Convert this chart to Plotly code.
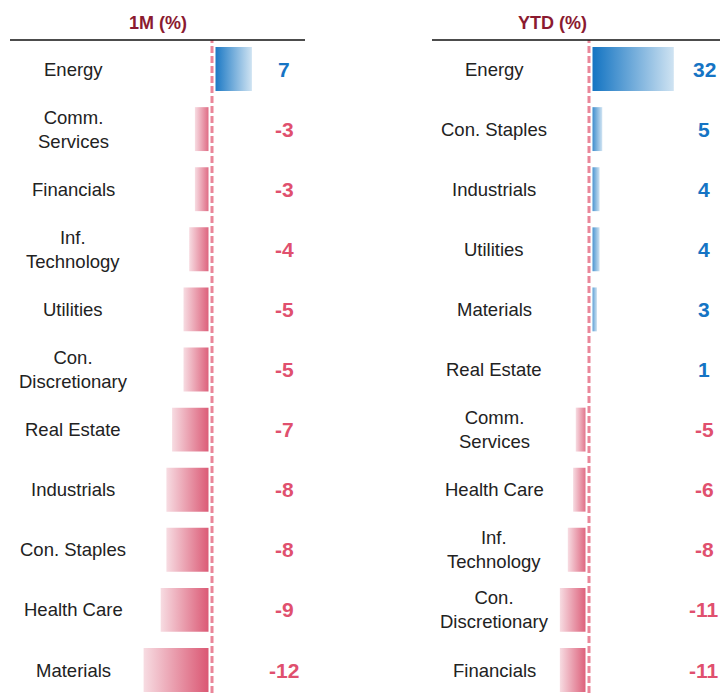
import plotly.graph_objects as go

# ---- data ----
m1_sectors = ["Energy", "Comm.<br>Services", "Financials", "Inf.<br>Technology", "Utilities",
              "Con.<br>Discretionary", "Real Estate", "Industrials", "Con. Staples",
              "Health Care", "Materials"]
m1_values = [7, -3, -3, -4, -5, -5, -7, -8, -8, -9, -12]

ytd_sectors = ["Energy", "Con. Staples", "Industrials", "Utilities", "Materials", "Real Estate",
               "Comm.<br>Services", "Health Care", "Inf.<br>Technology",
               "Con.<br>Discretionary", "Financials"]
ytd_values = [32, 5, 4, 4, 3, 1, -5, -6, -8, -11, -11]

headers = ["1M (%)", "YTD (%)"]

# ---- style ----
W, H = 723, 693
FONT = "Liberation Sans, Arial, sans-serif"
BLUE_DARK, BLUE_LIGHT = "#0B6FC0", "#CFE3F2"
RED_DARK, RED_LIGHT = "#D9506D", "#F7DCE2"
BLUE_TXT, RED_TXT = "#1574C4", "#E0506E"
HEAD_TXT = "#8B1A30"
ZERO_COL = "#EA8699"
BAR_H = 0.73

row0, row_step = 69, 60.1
y_range = [(H - row0) / row_step, -row0 / row_step]

panels = [
    dict(sectors=m1_sectors, values=m1_values, xa="x", dom=(130, 275), zero=212, ppu=5.7,
         label_x=73, value_x=284, head_x=158, line=(10, 305)),
    dict(sectors=ytd_sectors, values=ytd_values, xa="x2", dom=(550, 690), zero=589, ppu=2.65,
         label_x=494, value_x=704, head_x=552, line=(432, 720)),
]

fig = go.Figure()
annotations = []
shapes = []

for p in panels:
    d0, d1 = p["dom"]
    xr = [(d0 - p["zero"]) / p["ppu"], (d1 - p["zero"]) / p["ppu"]]
    p["range"] = xr
    for i, (lab, v) in enumerate(zip(p["sectors"], p["values"])):
        if v >= 0:
            cs = [[0, BLUE_DARK], [1, BLUE_LIGHT]]
        else:
            cs = [[0, RED_LIGHT], [1, RED_DARK]]
        fig.add_trace(go.Scatter(
            x=[0, v, v, 0, 0],
            y=[i - BAR_H / 2, i - BAR_H / 2, i + BAR_H / 2, i + BAR_H / 2, i - BAR_H / 2],
            mode="lines", line=dict(width=0), fill="toself",
            fillgradient=dict(type="horizontal", colorscale=cs),
            xaxis=p["xa"], yaxis="y", hoverinfo="skip", showlegend=False,
        ))
        annotations.append(dict(
            x=p["label_x"] / W, xref="paper", y=i, yref="y", text=lab, showarrow=False,
            xanchor="center", yanchor="middle",
            font=dict(family=FONT, size=18.5, color="#222222"),
        ))
        annotations.append(dict(
            x=p["value_x"] / W, xref="paper", y=i, yref="y", text=f"<b>{v}</b>", showarrow=False,
            xanchor="center", yanchor="middle",
            font=dict(family=FONT, size=21, color=BLUE_TXT if v >= 0 else RED_TXT),
        ))
    # zero line: white gap then dashed pink
    xref = p["xa"]
    shapes.append(dict(type="line", xref=xref, yref="paper", x0=0, x1=0, y0=0, y1=1 - 40 / H,
                       line=dict(color="white", width=7), layer="above"))
    shapes.append(dict(type="line", xref=xref, yref="paper", x0=0, x1=0, y0=0, y1=1 - 40 / H,
                       line=dict(color=ZERO_COL, width=3, dash="7px,3px"), layer="above"))
    # header rule
    shapes.append(dict(type="line", xref="paper", yref="paper", x0=p["line"][0] / W,
                       x1=p["line"][1] / W, y0=1 - 40 / H, y1=1 - 40 / H,
                       line=dict(color="#111111", width=1.5), layer="above"))

for p, h in zip(panels, headers):
    annotations.append(dict(
        x=p["head_x"] / W, xref="paper", y=1 - 23 / H, yref="paper", text=f"<b>{h}</b>",
        showarrow=False, xanchor="center", yanchor="middle",
        font=dict(family=FONT, size=18, color=HEAD_TXT),
    ))

ax_common = dict(visible=False, showgrid=False, zeroline=False, fixedrange=True)
fig.update_layout(
    width=W, height=H, margin=dict(l=0, r=0, t=0, b=0),
    paper_bgcolor="white", plot_bgcolor="white",
    xaxis=dict(domain=[panels[0]["dom"][0] / W, panels[0]["dom"][1] / W],
               range=panels[0]["range"], anchor="y", **ax_common),
    xaxis2=dict(domain=[panels[1]["dom"][0] / W, panels[1]["dom"][1] / W],
                range=panels[1]["range"], anchor="y", **ax_common),
    yaxis=dict(domain=[0, 1], range=y_range, **ax_common),
    annotations=annotations, shapes=shapes, showlegend=False,
)

fig.write_html("out.html", config={"displayModeBar": False},
               post_script="document.body.style.margin='0';document.body.style.overflow='hidden';")
